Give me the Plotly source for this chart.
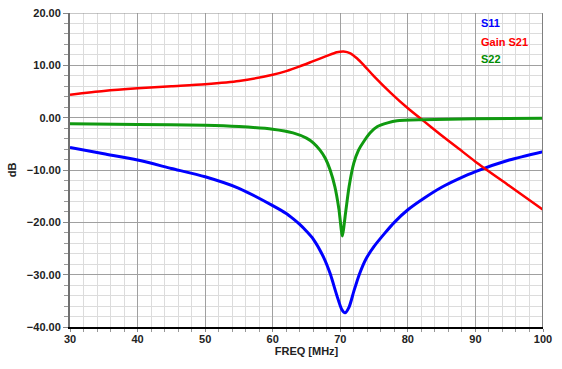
import plotly.graph_objects as go

# Gain S21 (red)
s21_f = [30, 35, 40, 45, 50, 55, 60, 62, 64, 66, 68, 69.5, 70.5, 71.5, 72.5, 73.5, 75, 77.5, 80, 82.5, 85, 87.5, 90, 95, 100]
s21_db = [4.4, 5.1, 5.6, 6.0, 6.4, 7.0, 8.2, 8.9, 9.8, 10.8, 11.8, 12.5, 12.65, 12.3, 11.3, 10.0, 7.9, 4.7, 1.8, -0.8, -3.4, -5.9, -8.4, -13.0, -17.6]

# S22 (green)
s22_f = [30, 40, 50, 55, 60, 63, 65, 66, 67, 67.8, 68.5, 69.2, 69.8, 70.3, 70.8, 71.3, 72, 72.7, 73.5, 74.5, 75.5, 77, 78.4, 82, 90, 100]
s22_db = [-1.15, -1.3, -1.45, -1.7, -2.2, -2.9, -3.9, -4.8, -6.2, -7.8, -10.0, -13.2, -17.5, -22.6, -18.0, -13.2, -8.7, -6.2, -4.5, -2.8, -1.7, -1.0, -0.6, -0.4, -0.2, -0.1]

# S11 (blue)
s11_f = [30, 35, 40, 45, 50, 55, 60, 62, 63, 64, 65, 66, 67.5, 68.5, 69.5, 70.2, 70.7, 71.3, 72, 72.8, 73.8, 75, 76.5, 78, 80, 82.5, 85, 87.5, 90, 95, 100]
s11_db = [-5.7, -6.9, -8.1, -9.7, -11.3, -13.5, -16.8, -18.3, -19.3, -20.4, -21.7, -23.2, -26.6, -29.8, -34.0, -36.6, -37.3, -36.2, -33.2, -30.0, -27.0, -24.6, -22.2, -20.0, -17.6, -15.3, -13.3, -11.7, -10.3, -8.1, -6.5]

legend_names = ["S11", "Gain S21", "S22"]
legend_colors = ["#0000ff", "#ff0000", "#008c00"]
legend_y = [18.1, 14.5, 11.2]

FONT = "Arial, Liberation Sans, sans-serif"

fig = go.Figure()
fig.add_trace(go.Scatter(x=s11_f, y=s11_db, mode="lines", line=dict(color="#0000ff", width=3, shape="spline", smoothing=0.7), name="S11"))
fig.add_trace(go.Scatter(x=s21_f, y=s21_db, mode="lines", line=dict(color="#ff0000", width=2.5, shape="spline", smoothing=0.7), name="Gain S21"))
fig.add_trace(go.Scatter(x=s22_f, y=s22_db, mode="lines", line=dict(color="#109a10", width=3, shape="spline", smoothing=0.6), name="S22"))

for name, col, yy in zip(legend_names, legend_colors, legend_y):
    fig.add_annotation(x=90.6, y=yy, text="<b>%s</b>" % name, showarrow=False, xanchor="left", yanchor="middle",
                       font=dict(family=FONT, size=11, color=col))

fig.add_shape(type="line", xref="x", yref="paper", x0=100, x1=100, y0=0, y1=1, line=dict(color="#808080", width=2))
fig.add_shape(type="line", xref="paper", yref="y", x0=0, x1=1, y0=20, y1=20, line=dict(color="#909090", width=1))

fig.update_layout(
    width=562, height=369,
    margin=dict(l=70, r=19, t=13, b=42),
    paper_bgcolor="white", plot_bgcolor="white",
    showlegend=False,
    font=dict(family=FONT, size=11, color="#222222"),
    xaxis=dict(
        range=[30, 100], dtick=10, tick0=30, automargin=False,
        showgrid=True, gridcolor="#a0a0a0", gridwidth=1,
        showline=True, linecolor="black", linewidth=2,
        ticks="outside", ticklen=3, tickcolor="#888888", ticklabelstandoff=-2,
        tickfont=dict(family=FONT, size=11, color="#222222", weight="bold"),
        minor=dict(dtick=2, showgrid=True, gridcolor="#dcdcdc", ticks="outside", ticklen=3, tickcolor="#999999"),
        title=dict(text="FREQ [MHz]", font=dict(family=FONT, size=11, color="#222222", weight="bold"), standoff=0),
        zeroline=False,
    ),
    yaxis=dict(
        range=[-40, 20], dtick=10, tickformat=".2f", automargin=False,
        showgrid=True, gridcolor="#a0a0a0", gridwidth=1,
        showline=True, linecolor="#707070", linewidth=2,
        ticks="outside", ticklen=5, tickcolor="#888888",
        tickfont=dict(family=FONT, size=11, color="#222222", weight="bold"),
        minor=dict(dtick=2, showgrid=True, gridcolor="#dcdcdc", ticks="outside", ticklen=4, tickcolor="#999999"),
        title=dict(text="dB", font=dict(family=FONT, size=11, color="#222222", weight="bold"), standoff=8),
        zeroline=False,
    ),
)

fig.write_html("out.html", config={"displayModeBar": False},
               post_script="document.body.style.margin='0';document.body.style.overflow='hidden';")
